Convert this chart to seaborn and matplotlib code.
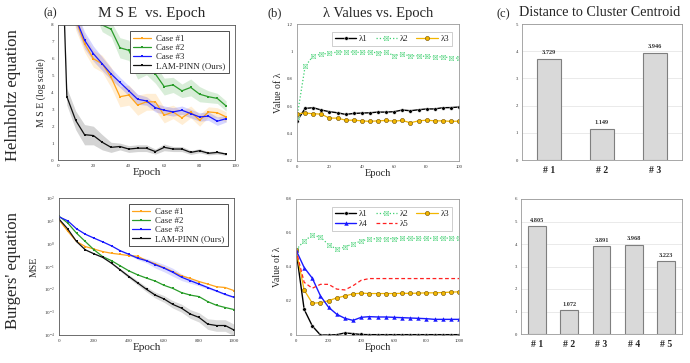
import numpy as np
import pandas as pd
import matplotlib
matplotlib.use("Agg")
import matplotlib.pyplot as plt
import seaborn as sns

sns.set_theme(style="white")
plt.rcParams['font.family'] = ['Liberation Serif', 'DejaVu Serif']
plt.rcParams['mathtext.fontset'] = 'dejavuserif'

# ---------------- Data ----------------
# Helmholtz MSE (log scale) vs epoch
h_epochs = [0, 5, 10, 15, 20, 25, 30, 35, 40, 45, 50, 55, 60, 65, 70, 75, 80, 85, 90, 95]
h_case1 = [14, 11, 8.3, 6.9, 6.0, 5.7, 4.9, 3.75, 3.85, 3.25, 3.45, 3.45, 2.65, 2.85, 2.5, 2.85, 2.35, 2.85, 2.8, 2.55]
h_case2 = [16, 13, 11, 10, 9.2, 8.0, 7.75, 6.65, 6.5, 5.4, 5.65, 5.1, 4.35, 4.45, 4.1, 4.3, 3.9, 3.75, 3.65, 3.2]
h_case3 = [14, 11, 8.4, 7.1, 6.3, 5.7, 5.1, 4.6, 4.1, 3.6, 3.5, 3.1, 2.95, 2.85, 2.95, 2.75, 2.55, 2.6, 2.3, 2.45]
h_lam = [20, 3.75, 2.35, 1.5, 1.45, 1.05, 0.75, 0.8, 0.65, 0.7, 0.7, 0.5, 0.75, 0.65, 0.65, 0.45, 0.55, 0.4, 0.45, 0.35]
h_case1_sd = [0.6, 0.6, 0.6, 0.5, 0.5, 0.5, 0.6, 0.6, 0.6, 0.6, 0.5, 0.5, 0.45, 0.4, 0.4, 0.35, 0.35, 0.3, 0.3, 0.3]
h_case2_sd = [0.4, 0.4, 0.4, 0.4, 0.4, 0.4, 0.45, 0.6, 0.6, 0.6, 0.6, 0.55, 0.5, 0.45, 0.4, 0.5, 0.45, 0.35, 0.3, 0.3]
h_case3_sd = [0.5, 0.5, 0.5, 0.5, 0.45, 0.4, 0.35, 0.3, 0.3, 0.3, 0.25, 0.25, 0.25, 0.25, 0.25, 0.25, 0.25, 0.25, 0.25, 0.2]
h_lam_sd = [0.5, 0.5, 0.55, 0.6, 0.55, 0.45, 0.3, 0.2, 0.2, 0.2, 0.2, 0.15, 0.2, 0.15, 0.15, 0.12, 0.12, 0.1, 0.1, 0.08]

# Burgers MSE vs epoch (log axis)
b_epochs = [0, 50, 100, 150, 200, 250, 300, 350, 400, 450, 500, 550, 600, 650, 700, 750, 800, 850, 900, 950, 1000]
b_case1 = [11, 3.5, 1.25, 0.75, 0.58, 0.45, 0.38, 0.34, 0.30, 0.28, 0.18, 0.13, 0.09, 0.06, 0.039, 0.030, 0.022, 0.017, 0.013, 0.012, 0.0088]
b_case2 = [16, 8, 2.9, 1.25, 0.54, 0.27, 0.18, 0.107, 0.064, 0.043, 0.031, 0.023, 0.015, 0.011, 0.0072, 0.0056, 0.0048, 0.0029, 0.0020, 0.0016, 0.0013]
b_case3 = [15, 10, 4.5, 2.6, 1.75, 1.2, 0.8, 0.49, 0.34, 0.23, 0.18, 0.12, 0.085, 0.056, 0.034, 0.024, 0.017, 0.012, 0.0085, 0.006, 0.0045]
b_lam = [12, 4.4, 1.25, 0.54, 0.36, 0.25, 0.14, 0.071, 0.036, 0.019, 0.010, 0.0056, 0.0038, 0.0022, 0.0015, 0.00083, 0.00059, 0.00030, 0.00026, 0.00026, 0.000165]
b_case3_sf = [1.05, 1.05, 1.05, 1.05, 1.05, 1.05, 1.05, 1.05, 1.1, 1.15, 1.25, 1.4, 1.45, 1.5, 1.4, 1.3, 1.2, 1.15, 1.1, 1.1, 1.1]
b_lam_sf = [1.05, 1.05, 1.05, 1.05, 1.05, 1.05, 1.1, 1.15, 1.2, 1.25, 1.3, 1.35, 1.4, 1.45, 1.5, 1.55, 1.6, 1.7, 1.8, 1.8, 1.8]

# Helmholtz lambda values
hl_epochs = [0, 5, 10, 15, 20, 25, 30, 35, 40, 45, 50, 55, 60, 65, 70, 75, 80, 85, 90, 95, 100]
hl_l1 = [0.491, 0.584, 0.589, 0.572, 0.56, 0.552, 0.54, 0.547, 0.55, 0.552, 0.557, 0.557, 0.56, 0.572, 0.567, 0.574, 0.58, 0.58, 0.589, 0.59, 0.594]
hl_l2 = [0.52, 0.89, 0.968, 0.98, 0.987, 0.995, 0.997, 0.995, 0.992, 0.995, 0.99, 0.992, 0.97, 0.978, 0.968, 0.968, 0.963, 0.96, 0.96, 0.953, 0.95]
hl_l3 = [0.545, 0.55, 0.545, 0.542, 0.513, 0.513, 0.498, 0.498, 0.493, 0.489, 0.493, 0.496, 0.491, 0.496, 0.479, 0.493, 0.498, 0.493, 0.493, 0.489, 0.491]

# Burgers lambda values
bl_epochs = [0, 50, 100, 150, 200, 250, 300, 350, 400, 450, 500, 550, 600, 650, 700, 750, 800, 850, 900, 950, 1000]
bl_l1 = [0.5, 0.151, 0.053, 0.0, 0.0, 0.002, 0.012, 0.008, 0.003, 0.002, 0.002, 0.002, 0.002, 0.002, 0.002, 0.002, 0.002, 0.002, 0.002, 0.002, 0.002]
bl_l2 = [0.5, 0.554, 0.586, 0.576, 0.531, 0.505, 0.517, 0.537, 0.552, 0.566, 0.566, 0.567, 0.567, 0.568, 0.568, 0.568, 0.569, 0.569, 0.57, 0.57, 0.57]
bl_l3 = [0.5, 0.265, 0.187, 0.19, 0.202, 0.218, 0.23, 0.242, 0.246, 0.244, 0.244, 0.244, 0.244, 0.245, 0.245, 0.246, 0.248, 0.248, 0.25, 0.252, 0.254]
bl_l4 = [0.5, 0.397, 0.334, 0.23, 0.163, 0.122, 0.098, 0.086, 0.104, 0.108, 0.106, 0.106, 0.104, 0.102, 0.1, 0.098, 0.096, 0.092, 0.092, 0.092, 0.092]
bl_l5 = [0.5, 0.31, 0.275, 0.298, 0.298, 0.27, 0.265, 0.29, 0.322, 0.332, 0.332, 0.332, 0.332, 0.332, 0.332, 0.332, 0.332, 0.332, 0.332, 0.332, 0.332]

# Distance to cluster centroid
h_cases = ["# 1", "# 2", "# 3"]
h_dist = [3.729, 1.149, 3.946]
b_cases = ["# 1", "# 2", "# 3", "# 4", "# 5"]
b_dist = [4.805, 1.072, 3.891, 3.968, 3.223]

# ---------------- Styling ----------------
C_OR = '#ffa31a'
C_GR = '#2a9d2a'
C_BL = '#1a1aff'
C_BK = '#111111'

fig = plt.figure(figsize=(6.9, 3.63), dpi=100)
W, H = 690.0, 363.0
def add_ax(x0, y0, x1, y1):
    return fig.add_axes([x0 / W, 1 - y1 / H, (x1 - x0) / W, (y1 - y0) / H])

ax_ha = add_ax(58, 25, 235, 160)
ax_hb = add_ax(297, 24, 459, 161)
ax_hc = add_ax(522, 24, 682, 160)
ax_ba = add_ax(59, 198, 234, 335)
ax_bb = add_ax(296, 199, 459, 335)
ax_bc = add_ax(521, 199, 682, 334)

def small_ticks(ax, size=3.6):
    ax.tick_params(axis='both', labelsize=size, length=1.5, width=0.4, pad=1.5, colors='#333333')

def frame(ax, color='#555555', lw=0.6):
    for s in ax.spines.values():
        s.set_color(color)
        s.set_linewidth(lw)

def mse_legend(ax):
    leg = ax.legend(loc='upper right', fontsize=6.4, frameon=True, fancybox=False, borderpad=0.35,
                    handlelength=2.0, labelspacing=0.1, handletextpad=0.6, edgecolor='#333333',
                    framealpha=1, bbox_to_anchor=(0.99, 0.985))
    leg.get_frame().set_linewidth(0.6)

# ---- (a) top: Helmholtz MSE ----
ax = ax_ha
series = [("Case #1", h_case1, h_case1_sd, C_OR),
          ("Case #2", h_case2, h_case2_sd, C_GR),
          ("Case #3", h_case3, h_case3_sd, C_BL),
          ("LAM-PINN (Ours)", h_lam, h_lam_sd, C_BK)]
for name, ys, sd, c in series:
    ys = np.array(ys); sd = np.array(sd)
    ax.fill_between(h_epochs, ys - sd, ys + sd, color=c, alpha=0.18, lw=0)
    df = pd.DataFrame({"Epoch": h_epochs, "v": ys})
    sns.lineplot(data=df, x="Epoch", y="v", ax=ax, color=c, lw=0.9, marker='s',
                 markersize=2.0, markeredgewidth=0, label=name)
ax.set_xlim(0, 100); ax.set_ylim(0, 8)
ax.set_xticks(range(0, 101, 20)); ax.set_yticks(range(0, 9))
ax.set_xlabel("Epoch", fontsize=8, labelpad=0)
ax.set_ylabel("M S E (log scale)", fontsize=7, labelpad=4)
small_ticks(ax); frame(ax)
mse_legend(ax)

# ---- (a) bottom: Burgers MSE ----
ax = ax_ba
ax.set_yscale('log')
series = [("Case #1", b_case1, None, C_OR),
          ("Case #2", b_case2, None, C_GR),
          ("Case #3", b_case3, b_case3_sf, C_BL),
          ("LAM-PINN (Ours)", b_lam, b_lam_sf, C_BK)]
for name, ys, sf, c in series:
    ys = np.array(ys)
    if sf is not None:
        sf = np.array(sf)
        ax.fill_between(b_epochs, ys / sf, ys * sf, color=c, alpha=0.15, lw=0)
    df = pd.DataFrame({"Epoch": b_epochs, "v": ys})
    sns.lineplot(data=df, x="Epoch", y="v", ax=ax, color=c, lw=0.9, marker='s',
                 markersize=2.0, markeredgewidth=0, label=name)
ax.set_xlim(0, 1000); ax.set_ylim(1e-4, 1e2)
ax.set_xticks(range(0, 1001, 200))
ax.set_yticks([1e-4, 1e-3, 1e-2, 1e-1, 1e0, 1e1, 1e2])
ax.minorticks_off()
ax.set_xlabel("Epoch", fontsize=8, labelpad=0)
ax.set_ylabel("MSE", fontsize=7, labelpad=4)
small_ticks(ax); frame(ax)
mse_legend(ax)

# ---- (b) lambda plots ----
def lam_line(ax, df, col, key, label):
    if key == 'l1':
        sns.lineplot(data=df, x="Epoch", y=col, ax=ax, color='black', lw=1.0, marker='o',
                     markersize=2.6, markeredgewidth=0.3, label=label)
    elif key == 'l2':
        sns.lineplot(data=df, x="Epoch", y=col, ax=ax, color='#3ccf6e', lw=0.9, ls=':',
                     marker='$\\boxtimes$', markersize=3.6, markeredgewidth=0.2, label=label)
    elif key == 'l3':
        sns.lineplot(data=df, x="Epoch", y=col, ax=ax, color='#f2b600', lw=0.9, marker='o',
                     markersize=3.0, markerfacecolor='#f2b600', markeredgecolor='#6b4a00',
                     markeredgewidth=0.4, label=label)
    elif key == 'l4':
        sns.lineplot(data=df, x="Epoch", y=col, ax=ax, color='#1a1aff', lw=1.0, marker='^',
                     markersize=3.2, markeredgewidth=0, label=label)
    else:
        sns.lineplot(data=df, x="Epoch", y=col, ax=ax, color='#ff2020', lw=0.9,
                     ls=(0, (3, 2)), label=label)

ax = ax_hb
df = pd.DataFrame({"Epoch": hl_epochs, "l1": hl_l1, "l2": hl_l2, "l3": hl_l3})
for k, lab in [('l1', 'λ1'), ('l2', 'λ2'), ('l3', 'λ3')]:
    lam_line(ax, df, k, k, lab)
ax.set_xlim(0, 100); ax.set_ylim(0.2, 1.2)
ax.set_xticks(range(0, 101, 20))
ax.set_yticks([0.2, 0.4, 0.6, 0.8, 1.0, 1.2])
ax.set_yticklabels(['0.2', '0.4', '0.6', '0.8', '1', '1.2'])
ax.set_xlabel("Epoch", fontsize=7.5, labelpad=0)
ax.set_ylabel("Value of λ", fontsize=7, labelpad=3)
small_ticks(ax, 3.4); frame(ax, '#999999', 0.6)
leg = ax.legend(loc='upper right', ncol=3, fontsize=6.4, frameon=True, fancybox=False,
                handlelength=2.4, columnspacing=0.9, handletextpad=0.3, borderpad=0.35,
                edgecolor='#bbbbbb', framealpha=1, bbox_to_anchor=(0.985, 0.975))
leg.get_frame().set_linewidth(0.5)

ax = ax_bb
df = pd.DataFrame({"Epoch": bl_epochs, "l1": bl_l1, "l2": bl_l2, "l3": bl_l3, "l4": bl_l4, "l5": bl_l5})
for k, lab in [('l1', 'λ1'), ('l2', 'λ2'), ('l3', 'λ3'), ('l4', 'λ4'), ('l5', 'λ5')]:
    lam_line(ax, df, k, k, lab)
ax.set_xlim(0, 1000); ax.set_ylim(0, 0.8)
ax.set_xticks(range(0, 1001, 200))
ax.set_yticks([0, 0.2, 0.4, 0.6, 0.8])
ax.set_yticklabels(['0', '0.2', '0.4', '0.6', '0.8'])
ax.set_xlabel("Epoch", fontsize=7.5, labelpad=0)
ax.set_ylabel("Value of λ", fontsize=7, labelpad=3)
small_ticks(ax, 3.4); frame(ax, '#999999', 0.6)
handles, labels = ax.get_legend_handles_labels()
order = [0, 3, 1, 4, 2]
leg = ax.legend([handles[i] for i in order], [labels[i] for i in order],
                loc='upper right', ncol=3, fontsize=6.4, frameon=True, fancybox=False,
                handlelength=2.4, columnspacing=0.9, handletextpad=0.3, borderpad=0.35,
                labelspacing=0.2, edgecolor='#bbbbbb', framealpha=1, bbox_to_anchor=(0.985, 0.975))
leg.get_frame().set_linewidth(0.5)

# ---- (c) bars ----
def bars(ax, cats, vals, ymax, width):
    df = pd.DataFrame({"case": cats, "d": vals})
    ax.set_axisbelow(True)
    ax.yaxis.grid(True, color='#e6e6e6', lw=0.6)
    sns.barplot(data=df, x="case", y="d", ax=ax, color='#d9d9d9', edgecolor='#7f7f7f',
                linewidth=0.8, width=width, saturation=1)
    for i, v in enumerate(vals):
        ax.text(i, v + ymax * 0.025, f"{v:.3f}", ha='center', va='bottom', fontsize=4.5,
                color='#333333', fontweight='bold')
    ax.set_ylim(0, ymax)
    ax.set_yticks(range(0, ymax + 1))
    ax.set_xlabel(""); ax.set_ylabel("")
    ax.tick_params(axis='y', labelsize=3.4, length=0, pad=3, colors='#333333')
    ax.tick_params(axis='x', labelsize=7, length=0, pad=4)
    for t in ax.get_xticklabels():
        t.set_fontweight('bold')
    frame(ax, '#999999', 0.6)

bars(ax_hc, h_cases, h_dist, 5, 0.45)
bars(ax_bc, b_cases, b_dist, 6, 0.55)

# ---- titles & row labels ----
fig.text(50 / W, 1 - 13 / H, "(a)", fontsize=9, ha='center', va='center')
fig.text(152 / W, 1 - 13 / H, "M S E  vs. Epoch", fontsize=11, ha='center', va='center')
fig.text(275 / W, 1 - 13 / H, "(b)", fontsize=9, ha='center', va='center')
fig.text(378 / W, 1 - 13 / H, "λ Values vs. Epoch", fontsize=10.5, ha='center', va='center')
fig.text(503 / W, 1 - 14 / H, "(c)", fontsize=9, ha='center', va='center')
fig.text(600 / W, 1 - 13 / H, "Distance to Cluster Centroid", fontsize=10.2, ha='center', va='center')

fig.text(13 / W, 1 - 95 / H, "Helmholtz equation", fontsize=12, rotation=90, ha='center', va='center')
fig.text(13 / W, 1 - 271 / H, "Burgers' equation", fontsize=12, rotation=90, ha='center', va='center')

fig.savefig("out.png", dpi=100)
